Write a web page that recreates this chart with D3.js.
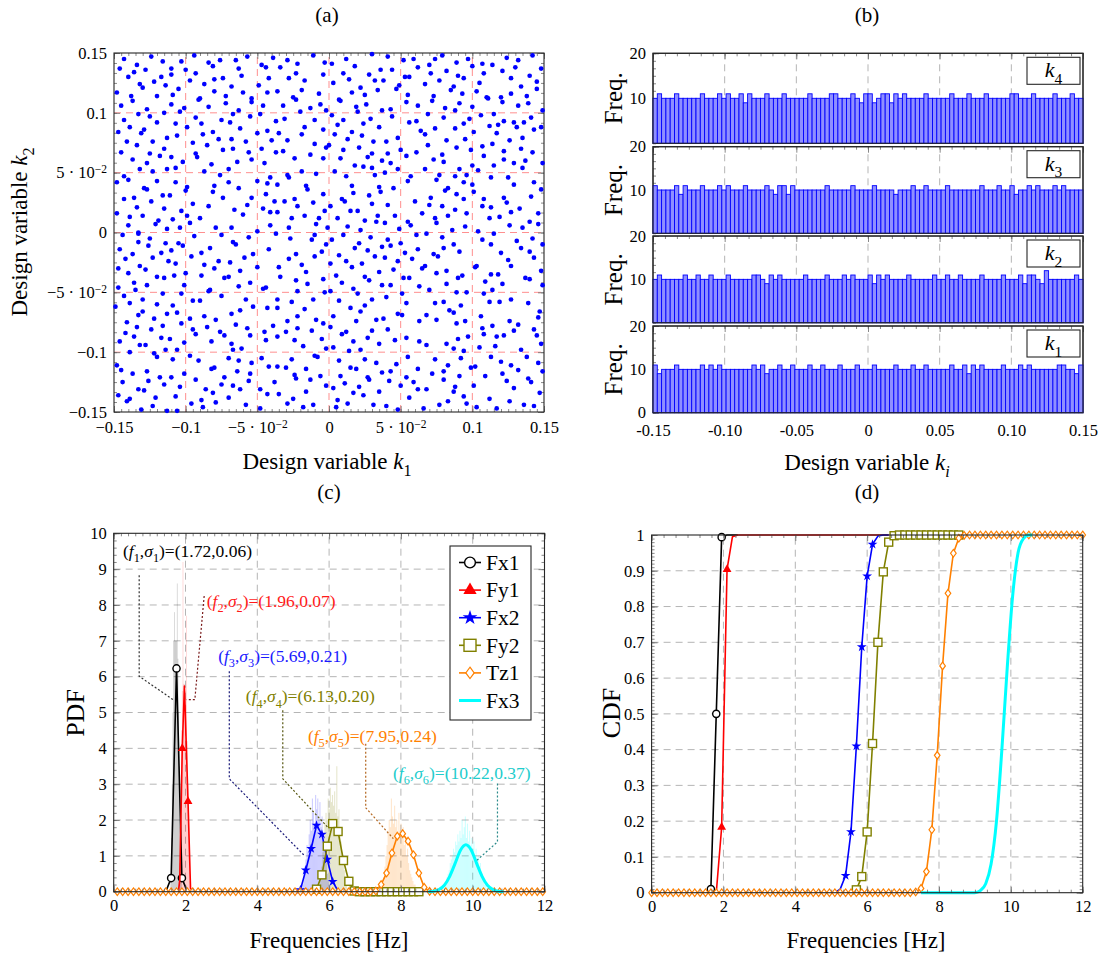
<!DOCTYPE html>
<html>
<head>
<meta charset="utf-8">
<script src="https://cdnjs.cloudflare.com/ajax/libs/d3/7.8.5/d3.min.js"></script>
<style>
  body { margin: 0; background: #fff; }
  svg { display: block; }
</style>
</head>
<body>
<div id="chart"></div>
<script>
// ---------------- (a) design samples, k1/k2 in units of 1e-3 ----------------
const designPts = [
[-143,145],[-124,147],[-116,143],[-103,143],[-94,148],[-84,142],[-76,144],[-65,144],[-57,147],[-39,146],[-29,144],[-22,141],[-11,148],[-3,142],
[-146,137],[-134,140],[-136,134],[-128,136],[-110,137],[-100,136],[-81,139],[-63,137],[-47,140],[-44,138],[-34,138],[-23,133],
[-140,130],[-117,130],[-110,132],[-122,126],[-97,127],[-93,133],[-80,128],[-74,129],[-61,131],[-42,129],[-28,129],[-4,132],[-17,127],
[-132,124],[-130,121],[-114,123],[-105,120],[-87,124],[-68,122],[-49,123],[-19,119],[-80,118],[-148,117],[-60,117],[-36,118],[-43,117],[-7,116],
[-138,114],[-137,110],[-120,114],[-109,115],[-91,111],[-90,112],[-72,114],[-54,112],[-54,109],[-25,113],[-23,111],[-6,107],
[-145,106],[-127,103],[-110,107],[-101,104],[-104,101],[-115,100],[-84,105],[-72,108],[-67,99],[-63,102],[-46,106],[-32,106],[-13,104],[-2,102],[-20,101],
[-133,99],[-55,97],[-48,99],[-143,94],[-125,97],[-120,92],[-93,96],[-75,94],[-69,92],[-37,93],[-31,95],[-10,94],[-107,91],[-89,91],
[-147,84],[-139,88],[-129,86],[-131,83],[-106,81],[-99,88],[-88,82],[-81,84],[-62,87],[-50,83],[-43,85],[-35,83],[-17,88],[-19,82],[-4,86],
[-141,76],[-113,79],[-123,76],[-134,73],[-77,78],[-68,78],[-58,76],[-40,77],[-29,77],[-10,74],[-95,75],[-85,73],
[-145,67],[-115,70],[-74,69],[-67,70],[-47,70],[-37,67],[-32,68],[-13,65],[-2,71],
[-125,66],[-118,64],[-93,66],[-110,63],[-92,63],[-56,67],[-137,61],[-127,58],[-102,59],[-82,57],[-64,59],[-54,61],[-45,58],[-24,62],[-4,62],
[-113,53],[-107,54],[-132,53],[-123,51],[-70,53],[-87,51],[-19,51],[-9,49],
[-143,47],[-140,44],[-120,43],[-107,42],[-148,42],[-76,48],[-70,42],[-41,46],[-43,41],[-29,48],[-28,46],[-50,43],
[-129,37],[-127,36],[-100,35],[-99,38],[-80,39],[-81,34],[-63,37],[-16,39],[-15,36],[-4,32],[-36,40],[-116,31],[-111,31],
[-143,28],[-136,29],[-124,26],[-95,24],[-74,29],[-54,29],[-44,32],[-38,26],[-31,26],[-24,28],[-11,25],
[-134,21],[-115,20],[-103,18],[-84,22],[-66,19],[-57,23],[-46,20],[-22,22],[-41,17],[-36,17],[-3,18],
[-148,16],[-139,13],[-130,14],[-119,10],[-109,11],[-99,14],[-90,12],[-60,15],[-26,12],[-17,14],[-7,12],
[-140,6],[-121,7],[-113,3],[-97,8],[-79,4],[-68,4],[-50,1],[-41,6],[-28,4],[-9,7],[-1,4],[-133,0],[-104,4],
[2,141],[12,145],[30,149],[41,147],[52,144],[59,145],[70,140],[74,145],[79,148],[89,142],[97,145],[100,139],[107,141],[114,140],[124,146],[132,144],[142,148],[18,139],
[10,133],[36,136],[44,136],[62,138],[71,133],[82,135],[90,131],[94,129],[108,133],[121,135],[130,138],[148,137],
[14,128],[28,132],[32,127],[38,127],[53,130],[56,130],[67,124],[77,127],[127,129],[140,131],[105,125],
[3,125],[22,121],[25,115],[16,117],[34,119],[49,123],[47,120],[55,115],[87,122],[85,119],[103,118],[134,122],[127,116],[145,120],[145,126],
[7,111],[8,110],[73,114],[72,110],[93,116],[110,113],[111,112],[120,113],[121,109],[138,114],
[19,105],[20,101],[26,107],[37,102],[43,103],[54,109],[62,106],[81,104],[88,102],[91,108],[100,105],[132,106],[139,108],[149,102],
[2,98],[10,94],[6,90],[24,91],[29,95],[44,97],[56,92],[61,93],[69,99],[80,96],[94,91],[98,95],[115,99],[106,98],[122,93],[129,92],[136,92],[141,96],
[35,88],[16,84],[4,82],[13,78],[23,81],[64,85],[67,82],[74,87],[88,87],[101,84],[112,89],[117,83],[118,90],[131,88],[143,86],[148,88],
[48,79],[40,76],[31,76],[95,78],[126,77],[135,79],[0,73],[114,74],[82,77],
[10,69],[21,71],[27,63],[30,66],[41,66],[50,69],[61,67],[69,73],[79,65],[89,71],[99,69],[107,72],[122,68],[134,70],[142,67],
[8,62],[18,56],[24,55],[37,60],[43,58],[54,64],[73,61],[80,59],[100,56],[108,64],[122,61],[149,58],[137,60],
[4,51],[30,54],[39,50],[48,53],[67,53],[91,53],[104,52],[115,56],[129,58],[135,54],
[12,47],[32,48],[57,47],[55,43],[75,44],[77,48],[88,47],[94,42],[96,48],[113,46],[125,46],[129,40],[143,42],
[16,39],[35,38],[36,34],[45,37],[81,35],[83,37],[101,34],[100,40],[148,36],[17,33],[28,31],[89,32],
[9,28],[11,26],[30,24],[41,23],[60,26],[71,29],[79,22],[94,28],[108,28],[122,29],[124,25],[141,30],
[1,22],[15,18],[20,18],[70,23],[88,19],[107,22],[113,21],[127,17],[133,20],[146,16],
[6,12],[25,10],[34,14],[46,14],[65,16],[74,12],[83,14],[96,16],[112,12],[119,13],[140,9],[146,7],
[13,5],[22,2],[33,9],[39,8],[49,3],[55,9],[57,6],[75,8],[86,2],[95,5],[104,1],[126,6],[135,4],
[-144,-2],[-133,-1],[-125,-5],[-114,-9],[-105,-9],[-102,-11],[-94,-3],[-83,-13],[-75,-2],[-67,-8],[-65,-10],[-56,-4],[-37,-1],[-27,-5],[-12,-6],[-10,-2],[-2,-10],[-146,-14],[-133,-8],[-126,-11],
[-137,-18],[-142,-22],[-123,-21],[-117,-17],[-110,-15],[-96,-20],[-89,-17],[-77,-24],[-69,-25],[-59,-21],[-53,-18],[-42,-14],[-10,-20],[-5,-16],[-23,-18],
[-132,-28],[-128,-31],[-112,-24],[-107,-26],[-87,-27],[-80,-30],[-62,-32],[-50,-29],[-35,-29],[-28,-22],[-19,-27],[-147,-30],
[-140,-34],[-120,-37],[-115,-38],[-108,-36],[-100,-34],[-89,-36],[-73,-38],[-70,-37],[-55,-42],[-44,-46],[-34,-37],[-23,-40],[-16,-33],[-15,-43],[-4,-39],[-136,-42],[-127,-44],[-147,-46],[-101,-44],[-63,-45],[-83,-48],[-84,-49],[-135,-48],[-46,-47],[-22,-49],[-3,-50],
[-143,-53],[-130,-56],[-116,-51],[-103,-51],[-95,-57],[-90,-57],[-75,-53],[-58,-56],[-36,-56],[-26,-58],[-11,-56],[-139,-59],[-120,-60],[-109,-61],[-106,-67],
[-149,-62],[-130,-66],[-133,-69],[-113,-68],[-97,-72],[-87,-70],[-79,-73],[-68,-68],[-62,-65],[-53,-62],[-43,-63],[-36,-63],[-17,-64],[-9,-73],
[-122,-72],[-141,-75],[-103,-76],[-65,-77],[-29,-74],[-22,-70],[-4,-76],
[-134,-79],[-124,-81],[-116,-78],[-142,-84],[-95,-81],[-93,-85],[-85,-79],[-76,-83],[-57,-80],[-45,-83],[-39,-78],[-30,-83],[-22,-80],[-12,-82],
[-146,-91],[-136,-87],[-117,-88],[-111,-89],[-101,-92],[-82,-91],[-73,-86],[-68,-93],[-55,-86],[-44,-90],[-36,-87],[-24,-90],[-5,-89],
[-132,-94],[-128,-94],[-114,-98],[-106,-98],[-67,-98],[-61,-97],[-18,-95],[-2,-97],[-139,-100],[-122,-101],
[-120,-104],[-109,-106],[-97,-103],[-91,-107],[-70,-105],[-63,-107],[-54,-109],[-47,-105],[-26,-106],[-10,-103],[-8,-104],
[-148,-111],[-145,-115],[-137,-118],[-127,-116],[-118,-121],[-110,-121],[-101,-118],[-82,-114],[-80,-113],[-73,-121],[-64,-116],[-55,-118],[-42,-112],[-36,-112],[-30,-113],[-24,-119],[-16,-114],[-13,-123],[-6,-120],
[-144,-125],[-126,-124],[-115,-127],[-93,-123],[-75,-127],[-67,-128],[-56,-124],[-38,-125],[-23,-122],
[-133,-131],[-129,-132],[-104,-129],[-86,-131],[-81,-134],[-62,-131],[-48,-131],[-43,-135],[-35,-135],[-16,-133],[-2,-128],
[-147,-136],[-139,-139],[-141,-141],[-121,-138],[-107,-137],[-89,-140],[-79,-142],[-70,-138],[-29,-143],[-25,-139],[-11,-144],
[-131,-148],[-123,-145],[-113,-149],[-96,-143],[-88,-146],[-58,-144],[-48,-147],[-18,-146],[-106,-149],
[2,-6],[10,-2],[18,-13],[21,-9],[29,-4],[37,-12],[41,-6],[43,-11],[50,-9],[61,-2],[68,-1],[62,-14],[73,-18],[76,-20],[79,-4],[80,-13],[87,-10],[91,-16],[107,-6],[113,-10],[115,-1],[131,-7],[134,-13],[142,-5],[140,-16],[149,-10],[120,-17],[7,-19],[12,-24],[27,-15],[32,-20],[39,-21],[53,-17],[58,-22],
[1,-26],[5,-36],[16,-29],[23,-26],[25,-37],[35,-33],[28,-40],[45,-31],[48,-24],[65,-30],[67,-28],[75,-34],[82,-32],[93,-36],[90,-38],[103,-28],[102,-29],[125,-23],[127,-28],[143,-21],[148,-32],[113,-35],[118,-35],
[9,-42],[17,-47],[37,-44],[43,-44],[52,-38],[56,-38],[63,-45],[70,-48],[82,-43],[89,-50],[109,-41],[114,-48],[121,-43],[137,-38],[140,-39],[149,-44],[1,-49],
[7,-57],[20,-51],[25,-61],[30,-56],[40,-54],[51,-51],[54,-59],[68,-69],[74,-59],[80,-58],[84,-65],[87,-67],[92,-61],[96,-50],[112,-58],[119,-58],[127,-56],[139,-59],[147,-66],[108,-51],
[3,-70],[15,-63],[22,-66],[33,-73],[38,-72],[41,-81],[48,-68],[51,-69],[63,-74],[75,-73],[89,-76],[95,-74],[106,-70],[107,-80],[114,-78],[126,-74],[132,-77],[143,-81],[146,-71],[1,-79],[9,-85],[12,-83],[19,-74],[30,-82],
[17,-91],[27,-88],[35,-93],[46,-90],[54,-88],[63,-91],[68,-94],[82,-93],[90,-89],[97,-87],[108,-85],[117,-87],[122,-86],[129,-82],[145,-86],[148,-93],[3,-96],[22,-98],[14,-99],[87,-97],[94,-99],[105,-96],[116,-95],[134,-98],
[7,-107],[15,-113],[19,-114],[25,-106],[33,-109],[43,-116],[47,-110],[37,-117],[55,-104],[62,-114],[74,-106],[80,-116],[83,-111],[92,-105],[99,-113],[102,-112],[113,-104],[120,-108],[127,-111],[132,-115],[138,-104],[146,-109],[149,-116],
[8,-120],[11,-126],[21,-129],[27,-121],[28,-123],[42,-124],[35,-133],[54,-121],[59,-125],[68,-131],[72,-118],[80,-123],[88,-129],[91,-120],[101,-128],[109,-120],[121,-118],[124,-124],[129,-130],[139,-122],[141,-125],[3,-130],[17,-134],
[6,-140],[5,-146],[13,-143],[24,-136],[31,-144],[40,-145],[48,-148],[50,-128],[56,-138],[62,-131],[66,-147],[77,-144],[83,-141],[87,-133],[94,-137],[96,-143],[103,-146],[112,-139],[117,-147],[126,-141],[136,-144],[147,-134],[143,-145]
];
const designTicks = [-0.15, -0.1, -0.05, 0, 0.05, 0.1, 0.15];

// ---------------- (b) histogram counts, 100 bins on [-0.15, 0.15] ----------------
const k4Counts = [10,11,10,10,10,11,10,10,10,10, 10,11,10,10,10,11,10,11,10,10, 11,9,11,10,10,10,11,10,10,10, 11,10,10,10,10,10,11,10,10,10, 10,11,11,10,10,10,11,10,9,11,
                  11,9,10,11,11,9,11,10,11,10, 10,10,10,11,10,10,10,10,10,11, 10,10,10,11,10,10,10,11,10,10, 10,10,10,11,11,10,10,10,11,10, 10,10,10,11,10,10,10,11,10,10];
const k3Counts = [11,10,10,10,10,11,9,11,10,10, 10,11,10,10,10,11,10,11,10,10, 10,11,10,10,10,10,11,10,9,11, 11,9,11,10,10,10,10,10,10,10, 11,10,10,10,10,10,11,10,10,10,
                  10,11,10,10,10,10,9,10,10,10, 11,10,10,11,10,10,10,10,11,10, 10,10,10,10,10,10,11,10,10,10, 11,10,10,11,9,10,10,11,10,11, 10,10,10,11,10,11,10,10,10,10];
const k2Counts = [10,11,10,10,10,10,10,11,10,10, 11,10,10,11,10,10,10,11,10,10, 10,10,10,11,11,10,9,11,10,11, 10,10,10,10,10,11,10,10,10,10, 11,10,10,10,11,10,11,10,10,10,
                  11,9,11,10,11,10,10,10,10,11, 10,10,10,10,10,11,10,10,11,10, 10,11,10,10,10,10,11,10,10,10, 10,11,10,10,10,11,9,11,11,10, 9,12,10,10,10,10,10,10,11,10];
const k1Counts = [11,9,10,10,10,11,10,10,10,10, 10,11,10,11,10,11,10,10,10,10, 10,10,10,11,10,11,9,10,10,11, 10,10,11,10,10,10,11,10,10,11, 10,10,10,11,10,10,10,11,10,10,
                  10,11,10,10,10,10,11,10,10,10, 11,10,10,11,10,10,10,10,10,11, 10,10,11,9,11,10,11,10,10,10, 10,11,10,10,10,11,10,11,10,10, 10,10,10,10,11,11,10,10,9,11];
const binEdges = d3.range(101).map(i => -0.15 + i * 0.003);
const histTicks = [-0.15, -0.10, -0.05, 0, 0.05, 0.10, 0.15];
const histTickLabels = ["-0.15", "-0.10", "-0.05", "0", "0.05", "0.10", "0.15"];

// ---------------- (c)/(d) six modes ----------------
const modeNames = ["Fx1", "Fy1", "Fx2", "Fy2", "Tz1", "Fx3"];
const modeColors = ["#000000", "#ff0000", "#0000ff", "#808000", "#ff8000", "#00ffff"];
const modeMarks = ["circle", "triangle", "star", "square", "diamond", null];
const meanFreq = [1.72, 1.96, 5.69, 6.13, 7.95, 10.22];
const stdFreq = [0.06, 0.07, 0.21, 0.20, 0.24, 0.37];

// sampled histograms behind the PDFs: [first bin start, bin width]
const histFx1 = [0.5,1.5,3.0,5.0,7.0,7.8,7.0,7.0,7.0,8.6,6.5,5.0,3.5,2.0,1.0,0.4];
const histFy1 = [0.3,0.8,1.8,3.0,4.5,5.6,9.2,5.8,5.8,5.6,5.2,7.7,4.2,3.0,1.8,0.9,0.3];
const histFx2 = [0.2,0.4,0.7,0.9,1.3,1.1,1.6,2.0,1.7,2.6,2.2,1.9,2.7,2.3,2.6,2.0,2.5,1.8,2.1,1.5,1.3,1.0,0.8,0.5,0.3,0.2];
const histFy2 = [0.2,0.4,0.7,1.1,1.5,1.9,2.2,2.0,2.6,2.3,2.9,2.5,2.7,2.4,2.8,2.2,3.5,2.1,2.3,1.7,1.4,1.1,0.8,0.6,0.4,0.2,0.1];
const histTz1 = [0.2,0.4,0.7,1.0,1.3,1.7,2.0,1.8,2.6,2.1,1.9,2.4,1.8,2.0,1.6,2.2,1.7,1.9,1.5,1.8,1.3,1.5,1.0,1.2,0.8,0.6,0.5,0.4,0.3,0.2,0.2,0.1,0.1];
const histFx3 = [0.1,0.2,0.3,0.4,0.5,0.6,0.8,0.9,1.0,1.2,1.1,1.4,1.3,1.6,1.4,1.7,1.5,2.0,1.6,1.8,2.1,1.5,1.9,1.4,1.7,1.3,1.5,1.2,1.4,1.0,1.2,0.9,1.0,0.7,0.8,0.5,0.4,0.3,0.2,0.2,0.1];
const histBins = [[1.58, 0.02], [1.80, 0.02], [5.25, 0.03], [5.72, 0.03], [7.48, 0.03], [9.18, 0.03]];

// PDF curves [f, pdf]
const pdfFx1 = [[1.45,0],[1.6,0.38],[1.75,6.23],[1.9,0.38],[2.05,0]];
const pdfFy1 = [[1.8,0],[1.84,0.3],[1.91,4.0],[1.97,5.74],[2.07,2.52],[2.14,0.1],[2.2,0]];
const pdfFx2 = [[5.05,0],[5.2,0.05],[5.35,0.6],[5.5,1.2],[5.65,1.85],[5.8,1.6],[5.95,0.9],[6.1,0.28],[6.25,0.02],[6.4,0]];
const pdfFy2 = [[5.5,0],[5.65,0.07],[5.8,0.47],[5.95,1.27],[6.1,1.9],[6.25,1.68],[6.4,0.87],[6.55,0.29],[6.7,0.02],[6.85,0],
                [7.0,0],[7.15,0],[7.3,0],[7.45,0],[7.6,0],[7.75,0],[7.9,0],[8.05,0],[8.2,0],[8.35,0],[8.5,0]];
const pdfTz1Peak = [[7.3,0.02],[7.45,0.2],[7.6,0.52],[7.75,1.08],[7.9,1.55],[8.05,1.62],[8.2,1.41],[8.35,1.03],[8.5,0.52],[8.65,0.12],[8.8,0.01]];
const pdfFx3 = [[8.76,0],[8.91,0.01],[9.06,0.06],[9.21,0.18],[9.36,0.43],[9.51,0.79],[9.66,1.16],[9.81,1.31],[9.96,1.16],[10.11,0.79],[10.26,0.43],[10.41,0.18],[10.56,0.06],[10.71,0.01],[10.86,0]];
const pdfMarksFx1 = [[1.6,0.38],[1.75,6.23],[1.9,0.38]];
const pdfMarksFy1 = [[1.91,4.0],[2.07,2.52]];
const pdfMarksFx2 = [[5.2,0.05],[5.35,0.6],[5.5,1.2],[5.65,1.85],[5.8,1.6],[5.95,0.9],[6.1,0.28]];
const pdfGrid = d3.range(80).map(k => +(0.1 + 0.15 * k).toFixed(2));

// CDF curves [f, cdf]
const cdfFx1 = [[1.5,0],[1.65,0.01],[1.8,0.5],[1.95,0.994],[2.1,1],[2.4,1]];
const cdfFy1 = [[1.8,0],[1.95,0.183],[2.1,0.904],[2.25,0.995],[2.4,1],[6.6,1]];
const cdfFx2 = [[5.1,0],[5.25,0.01],[5.4,0.048],[5.55,0.17],[5.7,0.41],[5.85,0.687],[6.0,0.885],[6.15,0.974],[6.3,0.997],[6.45,1],[6.6,1]];
const cdfFy2 = [[5.55,0],[5.7,0.008],[5.85,0.045],[6.0,0.17],[6.15,0.417],[6.3,0.70],[6.45,0.897],[6.6,0.98],[6.75,0.998],[6.9,1],
                [7.05,1],[7.2,1],[7.35,1],[7.5,1],[7.65,1],[7.8,1],[7.95,1],[8.1,1],[8.25,1],[8.4,1],[8.55,1]];
const cdfTz1Rise = [[7.35,0.002],[7.5,0.012],[7.65,0.059],[7.8,0.176],[7.95,0.384],[8.1,0.634],[8.25,0.837],[8.4,0.949],[8.55,0.991],[8.7,0.999]];
const cdfFx3 = [[7.5,0],[9.0,0],[9.15,0.006],[9.3,0.025],[9.45,0.08],[9.6,0.2],[9.75,0.4],[9.9,0.63],[10.05,0.83],[10.2,0.95],[10.35,0.99],[10.5,1],[10.6,1]];
const cdfMarksFx1 = [[1.65,0.01],[1.8,0.5],[1.95,0.994]];
const cdfMarksFy1 = [[1.95,0.183],[2.1,0.904]];
const cdfMarksFx2 = [[5.4,0.048],[5.55,0.17],[5.7,0.41],[5.85,0.687],[6.0,0.885],[6.15,0.974]];
const cdfGrid = d3.range(81).map(k => +(0.15 * k).toFixed(2));

// annotation labels and leader lines in (f, pdf) units
const labelAt = [[0.26,9.5],[2.59,8.11],[2.91,6.57],[3.68,5.44],[5.41,4.34],[7.78,3.30]];
const leaderPts = [
  [[0.71,8.83],[0.71,6.01],[1.68,5.34]],
  [[2.52,8.25],[2.26,5.36],[2.03,5.36]],
  [[3.22,6.15],[3.22,3.15],[5.33,0.99]],
  [[4.71,5.06],[4.71,3.15],[5.96,1.80]],
  [[7.02,4.13],[7.02,2.34],[7.79,1.48]],
  [[10.69,3.02],[10.69,1.39],[10.11,0.87]]
];
const labelColors = ["#000000", "#ff1a1a", "#1a1aff", "#808000", "#ff8000", "#22cccc"];
const leaderColors = ["#333333", "#7a1a1a", "#1a1a7a", "#55550f", "#b3661f", "#2a8a8a"];

// ---------------- helpers ----------------
const FONT = "'Liberation Serif','Times New Roman',serif";
const LABEL = 23;
const svg = d3.select("#chart").append("svg")
  .attr("width", 1102).attr("height", 955)
  .style("font-family", FONT);

function rich(sel, parts, size) {
  let shift = 0;
  parts.forEach(p => {
    const target = p.sub ? size * 0.3 : 0;
    const ts = sel.append("tspan").text(p.t);
    if (target !== shift) { ts.attr("dy", target - shift); shift = target; }
    if (p.sub) ts.attr("font-size", size * 0.7);
    if (p.it) ts.attr("font-style", "italic");
  });
}

function steps(lo, hi, step) {
  const n = Math.round((hi - lo) / step);
  return d3.range(n + 1).map(i => lo + i * step);
}

function axisSide(g, axis, tx, ty, vals, len, fmt, pad) {
  const s = g.append("g").attr("transform", `translate(${tx},${ty})`)
    .call(axis.tickValues(vals).tickSize(-len).tickPadding(pad || 0).tickFormat(fmt || (() => "")));
  s.attr("font-family", null).attr("font-size", 16.5);
  s.select(".domain").remove();
  s.selectAll(".tick line").attr("stroke", "#6b6b6b").attr("stroke-width", 0.8);
  s.selectAll(".tick text").attr("fill", "#000");
  return s;
}

// ticks on the chosen sides, labels bottom/left
function frame(g, x, y, o) {
  const [xa, xb] = x.range(), [ya, yb] = y.range();
  const sides = o.sides || "lrtb";
  let bot = null, left = null;
  if (sides.includes("b")) {
    axisSide(g, d3.axisBottom(x), 0, ya, o.xMinor, 3);
    bot = axisSide(g, d3.axisBottom(x), 0, ya, o.xMajor, 6, o.xFmt, o.xPad);
  }
  if (sides.includes("t")) {
    axisSide(g, d3.axisTop(x), 0, yb, o.xMinor, 3);
    axisSide(g, d3.axisTop(x), 0, yb, o.xMajor, 6);
  }
  if (sides.includes("l")) {
    axisSide(g, d3.axisLeft(y), xa, 0, o.yMinor, 3);
    left = axisSide(g, d3.axisLeft(y), xa, 0, o.yMajor, 6, o.yFmt, o.yPad);
  }
  if (sides.includes("r")) {
    axisSide(g, d3.axisRight(y), xb, 0, o.yMinor, 3);
    axisSide(g, d3.axisRight(y), xb, 0, o.yMajor, 6);
  }
  g.append("rect").attr("x", xa).attr("y", yb).attr("width", xb - xa).attr("height", ya - yb)
    .attr("fill", "none").attr("stroke", "#262626").attr("stroke-width", 1.1);
  return { bot, left };
}

function grid(g, x, y, xs, ys, color) {
  const [xa, xb] = x.range(), [ya, yb] = y.range();
  const gg = g.append("g").attr("stroke", color).attr("stroke-width", 1).attr("stroke-dasharray", "7,5");
  gg.selectAll(".gx").data(xs).join("line").attr("class", "gx")
    .attr("x1", d => x(d)).attr("x2", d => x(d)).attr("y1", ya).attr("y2", yb);
  gg.selectAll(".gy").data(ys).join("line").attr("class", "gy")
    .attr("x1", xa).attr("x2", xb).attr("y1", d => y(d)).attr("y2", d => y(d));
}

function marker(g, type, color, px, py, big) {
  const s = big ? 1.5 : 1;
  if (type === "circle") {
    g.append("circle").attr("cx", px).attr("cy", py).attr("r", 3.6 * s)
      .attr("fill", "#fff").attr("stroke", color).attr("stroke-width", 1.4);
  } else if (type === "square") {
    const h = 4 * s;
    g.append("rect").attr("x", px - h).attr("y", py - h).attr("width", 2 * h).attr("height", 2 * h)
      .attr("fill", "#fff").attr("stroke", color).attr("stroke-width", 1.4);
  } else if (type === "diamond") {
    const w = 2.8 * s, h = 3.8 * s;
    g.append("path").attr("d", `M${px},${py - h}L${px + w},${py}L${px},${py + h}L${px - w},${py}Z`)
      .attr("fill", "#fff").attr("stroke", color).attr("stroke-width", 1.2);
  } else if (type === "triangle") {
    g.append("path").attr("d", d3.symbol(d3.symbolTriangle, 34 * s * s)())
      .attr("transform", `translate(${px},${py})`).attr("fill", color);
  } else if (type === "star") {
    g.append("path").attr("d", d3.symbol(d3.symbolStar, 30 * s * s)())
      .attr("transform", `translate(${px},${py})`).attr("fill", color);
  }
}

function curve(g, x, y, pts, color, width, smooth) {
  g.append("path").datum(pts)
    .attr("d", d3.line().x(d => x(d[0])).y(d => y(d[1])).curve(smooth ? d3.curveMonotoneX : d3.curveLinear))
    .attr("fill", "none").attr("stroke", color).attr("stroke-width", width).attr("stroke-linejoin", "round");
}

function title(txt, cx, cy) {
  svg.append("text").attr("x", cx).attr("y", cy).attr("text-anchor", "middle")
    .attr("font-size", 21).text(txt);
}

// ================= (a) scatter =================
{
  const x = d3.scaleLinear().domain([-0.15, 0.15]).range([114, 544]);
  const y = d3.scaleLinear().domain([-0.15, 0.15]).range([412, 53]);
  const g = svg.append("g");
  const inner = designTicks.slice(1, -1);
  grid(g, x, y, inner, inner, "#ff8f8f");
  const fmt = d => d === 0 ? "0" : (d < 0 ? "\u2212" : "") + (Math.abs(Math.abs(d) - 0.05) < 1e-9 ? "5 \u00b7 10" : String(Math.abs(d)));
  const f = frame(g, x, y, {
    xMajor: designTicks, xMinor: steps(-0.15, 0.15, 0.005),
    yMajor: designTicks, yMinor: steps(-0.15, 0.15, 0.05 / 6),
    xFmt: fmt, yFmt: fmt, xPad: 9, yPad: 7
  });
  [f.bot, f.left].forEach(a => a.selectAll(".tick text")
    .filter(d => Math.abs(Math.abs(d) - 0.05) < 1e-9)
    .append("tspan").attr("dy", "-0.45em").attr("font-size", 11.5).text("\u22122"));
  g.append("g").selectAll("circle").data(designPts).join("circle")
    .attr("cx", d => x(d[0] / 1000)).attr("cy", d => y(d[1] / 1000))
    .attr("r", 2.35).attr("fill", "#0000ff");
  title("(a)", 327, 22);
  rich(svg.append("text").attr("x", 327).attr("y", 469).attr("text-anchor", "middle").attr("font-size", LABEL),
    [{ t: "Design variable " }, { t: "k", it: true }, { t: "1", sub: true }], LABEL);
  rich(svg.append("text").attr("transform", "translate(27,232) rotate(-90)").attr("text-anchor", "middle").attr("font-size", LABEL),
    [{ t: "Design variable " }, { t: "k", it: true }, { t: "2", sub: true }], LABEL);
}

// ================= (b) histograms =================
{
  const x = d3.scaleLinear().domain([-0.15, 0.15]).range([653, 1083]);
  const tops = [53.3, 146.7, 236, 326], bots = [143.3, 233.3, 322.7, 412.7];
  const sets = [k4Counts, k3Counts, k2Counts, k1Counts];
  const idx = ["4", "3", "2", "1"];
  sets.forEach((counts, p) => {
    const y = d3.scaleLinear().domain([0, 20]).range([bots[p], tops[p]]);
    const g = svg.append("g");
    grid(g, x, y, histTicks.slice(1, -1), [], "#b5b5b5");
    const last = p === 3;
    frame(g, x, y, {
      sides: "lt",
      xMajor: histTicks, xMinor: steps(-0.15, 0.15, 0.05 / 6),
      yMajor: last ? [0, 10, 20] : [10, 20], yMinor: steps(0, 20, 10 / 6),
      yFmt: d => String(d), yPad: 7
    });
    g.append("g").selectAll("rect").data(counts).join("rect")
      .attr("x", (d, i) => x(binEdges[i])).attr("width", (d, i) => x(binEdges[i + 1]) - x(binEdges[i]))
      .attr("y", d => y(d)).attr("height", d => y(0) - y(d))
      .attr("fill", "#8f8fff").attr("stroke", "#0000ff").attr("stroke-width", 0.9);
    g.append("rect").attr("x", 653).attr("y", tops[p]).attr("width", 430).attr("height", bots[p] - tops[p])
      .attr("fill", "none").attr("stroke", "#262626").attr("stroke-width", 1.1);
    g.append("rect").attr("x", 1083 - 56).attr("y", tops[p] + 4).attr("width", 53).attr("height", 27)
      .attr("fill", "#fff").attr("stroke", "#262626").attr("stroke-width", 1.1);
    rich(g.append("text").attr("x", 1083 - 29.5).attr("y", tops[p] + 24).attr("text-anchor", "middle").attr("font-size", 22),
      [{ t: "k", it: true }, { t: idx[p], sub: true }], 22);
    g.append("text").attr("transform", `translate(622,${(tops[p] + bots[p]) / 2}) rotate(-90)`)
      .attr("text-anchor", "middle").attr("font-size", 25).text("Freq.");
    if (last) {
      axisSide(g, d3.axisBottom(x), 0, bots[p], histTicks, 0, (d, i) => histTickLabels[i], 12);
    }
  });
  title("(b)", 867, 22);
  rich(svg.append("text").attr("x", 867).attr("y", 470).attr("text-anchor", "middle").attr("font-size", LABEL),
    [{ t: "Design variable " }, { t: "k", it: true }, { t: "i", sub: true, it: true }], LABEL);
}

// ================= (c) PDF =================
{
  const x = d3.scaleLinear().domain([0, 12]).range([113.7, 544.5]);
  const y = d3.scaleLinear().domain([0, 10]).range([891.7, 533.3]);
  const g = svg.append("g");
  grid(g, x, y, [2, 4, 6, 8, 10], [1, 2, 3, 4, 5, 6, 7, 8, 9], "#b5b5b5");

  const hists = [histFx1, histFy1, histFx2, histFy2, histTz1, histFx3];
  hists.forEach((h, s) => {
    const [start, w] = histBins[s];
    g.append("g").selectAll("rect").data(h).join("rect")
      .attr("x", (d, i) => x(start + i * w)).attr("width", (d, i) => x(start + (i + 1) * w) - x(start + i * w))
      .attr("y", d => y(d)).attr("height", d => y(0) - y(d))
      .attr("fill", modeColors[s]).attr("fill-opacity", 0.2);
  });

  // leader lines + labels
  leaderPts.forEach((pts, s) => {
    g.append("path").datum(pts).attr("d", d3.line().x(d => x(d[0])).y(d => y(d[1])))
      .attr("fill", "none").attr("stroke", leaderColors[s]).attr("stroke-width", 1.2).attr("stroke-dasharray", "2,2");
    const t = g.append("text").attr("x", x(labelAt[s][0])).attr("y", y(labelAt[s][1])).attr("dy", "0.32em")
      .attr("font-size", 17.5).attr("fill", labelColors[s]);
    const n = String(s + 1);
    rich(t, [{ t: "(" }, { t: "f", it: true }, { t: n, sub: true }, { t: "," }, { t: "\u03c3", it: true }, { t: n, sub: true },
      { t: ")=(" + meanFreq[s].toFixed(2) + "," + stdFreq[s].toFixed(2) + ")" }], 17.5);
  });

  const tz1Map = new Map(pdfTz1Peak.map(d => [d[0].toFixed(2), d[1]]));
  const pdfTz1 = pdfGrid.map(f => [f, tz1Map.get(f.toFixed(2)) || 0]);
  const lines = [pdfFx1, pdfFy1, pdfFx2, pdfFy2, [[0, 0], ...pdfTz1, [12, 0]], pdfFx3];
  const marks = [pdfMarksFx1, pdfMarksFy1, pdfMarksFx2, pdfFy2.slice(1), pdfTz1, []];
  lines.forEach((pts, s) => {
    curve(g, x, y, pts, modeColors[s], s === 5 ? 3 : 1.6, s === 5);
    marks[s].forEach(d => marker(g, modeMarks[s], modeColors[s], x(d[0]), y(d[1])));
  });

  frame(g, x, y, {
    xMajor: [0, 2, 4, 6, 8, 10, 12], xMinor: steps(0, 12, 0.2),
    yMajor: d3.range(0, 11), yMinor: steps(0, 10, 0.2),
    xFmt: d => String(d), yFmt: d => String(d), xPad: 8, yPad: 7
  });

  // legend
  const lx = 450, ly = 546;
  const lg = g.append("g");
  lg.append("rect").attr("x", lx).attr("y", ly).attr("width", 81).attr("height", 174)
    .attr("fill", "#fff").attr("stroke", "#262626").attr("stroke-width", 1.1);
  modeNames.forEach((name, s) => {
    const cy = ly + 16.5 + s * 27.6;
    lg.append("line").attr("x1", lx + 9).attr("x2", lx + 31).attr("y1", cy).attr("y2", cy)
      .attr("stroke", modeColors[s]).attr("stroke-width", s === 5 ? 3 : 1.6);
    if (modeMarks[s]) marker(lg, modeMarks[s], modeColors[s], lx + 20, cy, true);
    lg.append("text").attr("x", lx + 36).attr("y", cy).attr("dy", "0.34em").attr("font-size", 21.5).text(name);
  });

  title("(c)", 329, 499);
  svg.append("text").attr("x", 329).attr("y", 948).attr("text-anchor", "middle").attr("font-size", LABEL).text("Frequencies [Hz]");
  svg.append("text").attr("transform", "translate(84,713) rotate(-90)").attr("text-anchor", "middle").attr("font-size", 26).text("PDF");
}

// ================= (d) CDF =================
{
  const x = d3.scaleLinear().domain([0, 12]).range([651.6, 1082.7]);
  const y = d3.scaleLinear().domain([0, 1]).range([892.7, 535]);
  const g = svg.append("g");
  grid(g, x, y, [2, 4, 6, 8, 10], d3.range(1, 10).map(i => i / 10), "#b5b5b5");

  const first = cdfTz1Rise[0][0], lastF = cdfTz1Rise[cdfTz1Rise.length - 1][0];
  const riseMap = new Map(cdfTz1Rise.map(d => [d[0].toFixed(2), d[1]]));
  const cdfTz1 = cdfGrid.map(f => [f, f < first ? 0 : f > lastF ? 1 : riseMap.get(f.toFixed(2))]);
  const lines = [cdfFx1, cdfFy1, cdfFx2, cdfFy2, cdfTz1, cdfFx3];
  const marks = [cdfMarksFx1, cdfMarksFy1, cdfMarksFx2, cdfFy2.slice(1), cdfTz1, []];
  lines.forEach((pts, s) => {
    curve(g, x, y, pts, modeColors[s], s === 5 ? 3 : 1.6, s === 5);
    marks[s].forEach(d => marker(g, modeMarks[s], modeColors[s], x(d[0]), y(d[1])));
  });

  const fmt = d => d === 0 ? "0" : d === 1 ? "1" : d.toFixed(1);
  frame(g, x, y, {
    xMajor: [0, 2, 4, 6, 8, 10, 12], xMinor: steps(0, 12, 1 / 3),
    yMajor: d3.range(0, 11).map(i => i / 10), yMinor: steps(0, 1, 0.01),
    xFmt: d => String(d), yFmt: fmt, xPad: 8, yPad: 7
  });

  title("(d)", 867, 499);
  svg.append("text").attr("x", 866).attr("y", 948).attr("text-anchor", "middle").attr("font-size", LABEL).text("Frequencies [Hz]");
  svg.append("text").attr("transform", "translate(620,713) rotate(-90)").attr("text-anchor", "middle").attr("font-size", 26).text("CDF");
}
</script>
</body>
</html>
